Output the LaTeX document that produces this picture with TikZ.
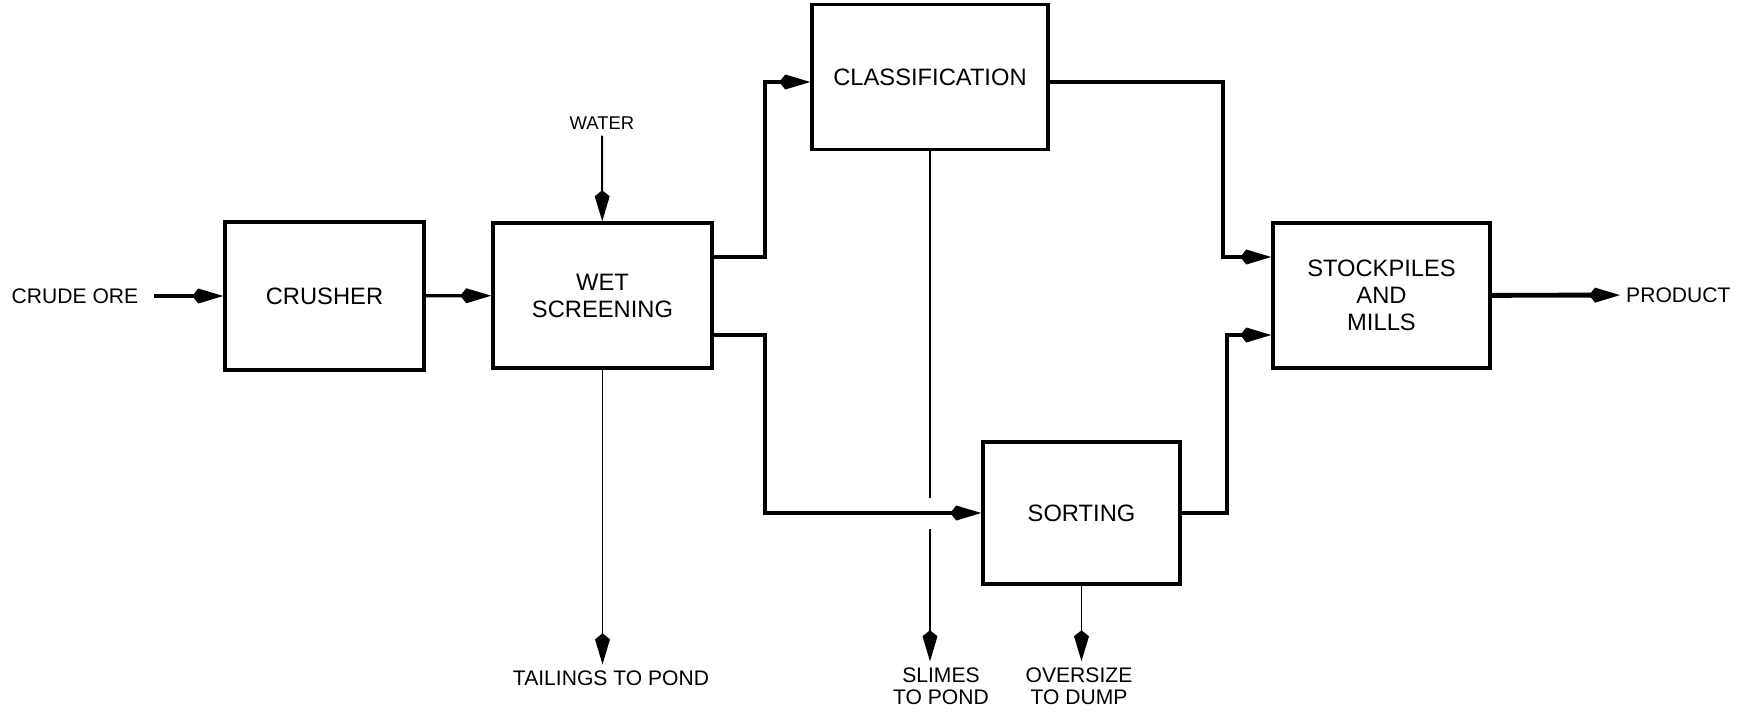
\documentclass[tikz,border=0pt]{standalone}
\usepackage{fontspec}
\setmainfont{Liberation Sans}
\usepackage{tikz}
\usetikzlibrary{arrows.meta,positioning}

\begin{document}
\begin{tikzpicture}[
  x=0.02cm, y=-0.02cm,
  unit/.style={draw, line width=2pt, align=center, inner sep=2pt,
               font=\fontsize{13.5}{15.4}\selectfont},
  tag/.style={align=center, font=\fontsize{12}{12.6}\selectfont},
  flow/.style={-{Kite[length=0.62cm, width=0.3cm, inset=0.12cm]}, line width=2.5pt},
  lightflow/.style={-{Kite[length=0.62cm, width=0.3cm, inset=0.12cm]}, line width=1.1pt}
]
  \useasboundingbox (0,0) rectangle (1755,711);

  \node[unit, minimum width=3.98cm, minimum height=2.96cm] (crusher) at (324.5,296) {CRUSHER};
  \node[unit, minimum width=4.38cm, minimum height=2.90cm] (wet) at (602.5,295.5) {WET\\SCREENING};
  \node[unit, minimum width=4.72cm, minimum height=2.90cm] (class) at (930,77) {CLASSIFICATION};
  \node[unit, minimum width=3.94cm, minimum height=2.84cm] (sort) at (1081.5,513) {SORTING};
  \node[unit, minimum width=4.34cm, minimum height=2.90cm] (stock) at (1381.5,295.5) {STOCKPILES\\AND\\MILLS};

  \node[tag] (ore) at (75,296) {CRUDE ORE};
  \node[tag, font=\fontsize{10.5}{12}\selectfont] (water) at (602,123) {WATER};
  \node[tag] (tailings) at (611,678) {TAILINGS TO POND};
  \node[tag] (slimes) at (941,686) {SLIMES\\TO POND};
  \node[tag] (oversize) at (1079,686) {OVERSIZE\\TO DUMP};
  \node[tag, anchor=west] (product) at (1620,295) {PRODUCT};

  \draw[flow, line width=2pt, shorten <=0.2cm] (ore) -- (crusher);
  \draw[flow, line width=1.8pt] (crusher) -- (wet);
  \draw[lightflow] (water) -- (wet);
  \draw[lightflow] (wet.south) -- (wet.south |- tailings.north);

  \draw[flow] ([yshift=0.77cm]wet.east) -- ++(51,0) |- ([yshift=-0.1cm]class.west);
  \draw[flow] ([yshift=-0.79cm]wet.east) -- ++(51,0) |- (sort.west);

  \draw[line width=1.1pt] (class.south) -- ([yshift=0.3cm]class.south |- sort.west);
  \draw[lightflow] ([yshift=-0.32cm]class.south |- sort.west) -- (class.south |- slimes.north);
  \draw[lightflow] (sort.south) -- (sort.south |- oversize.north);

  \draw[flow] ([yshift=-0.1cm]class.east) -| ([xshift=-0.96cm, yshift=0.77cm]stock.west)
    -- ([yshift=0.77cm]stock.west);
  \draw[flow] (sort.east) -| ([xshift=-0.88cm, yshift=-0.79cm]stock.west)
    -- ([yshift=-0.79cm]stock.west);

  \draw[flow, line width=2.8pt] (stock) -- (product);
\end{tikzpicture}
\end{document}
